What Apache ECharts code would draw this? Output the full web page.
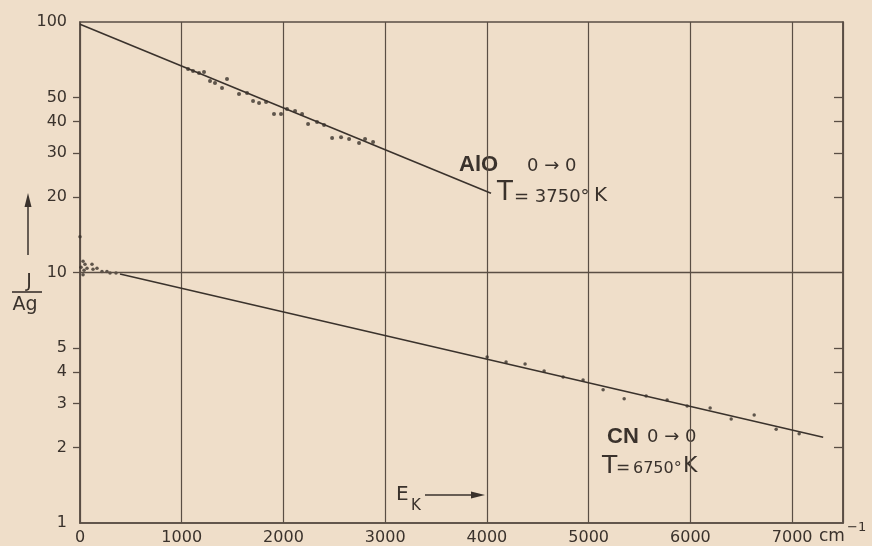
<!DOCTYPE html>
<html>
<head>
<meta charset="utf-8">
<script src="https://cdn.jsdelivr.net/npm/echarts@6/dist/echarts.min.js"></script>
<style>
html,body{margin:0;padding:0;background:#efdec9;}
#c{width:872px;height:546px;}
</style>
</head>
<body>
<div id="c"></div>
<script>
// ---- data ----
const yLabelValues = [1, 2, 3, 4, 5, 10, 20, 30, 40, 50, 100];
const yTickValues = [2, 3, 4, 5, 10, 20, 30, 40, 50];
const yRightTickValues = [2, 3, 4, 5, 20, 30, 40, 50];

// AlO 0-0 band: fitted line (T = 3750 K) and measured points
const aloLine = [[0, 98], [4040, 20.7]];
const aloPoints = [
  [1062, 64.9], [1111, 63.8], [1170, 62.6], [1219, 63.2], [1278, 58.2],
  [1327, 57.1], [1396, 54.5], [1445, 59.2], [1563, 51.6], [1642, 52.1],
  [1701, 48.4], [1760, 47.5], [1829, 47.9], [1907, 42.9], [1976, 42.9],
  [2035, 44.9], [2114, 44.1], [2183, 42.9], [2242, 39.2], [2330, 39.9],
  [2399, 38.8], [2478, 34.4], [2566, 34.7], [2645, 34.1], [2743, 32.9],
  [2802, 34.1], [2881, 33.2]
];

// CN 0-0 band: fitted line (T = 6750 K) and measured points
const cnLine = [[393, 9.86], [7305, 2.20]];
const cnPoints = [
  [0, 13.9], [30, 11.1], [49, 10.8], [10, 10.5], [69, 10.4], [40, 10.2],
  [30, 9.8], [118, 10.8], [128, 10.3], [167, 10.4], [216, 10.1], [265, 10.1],
  [295, 9.95], [354, 9.95],
  [4002, 4.60], [4188, 4.39], [4375, 4.31], [4562, 4.04], [4749, 3.83],
  [4945, 3.72], [5142, 3.40], [5349, 3.13], [5565, 3.21], [5771, 3.10],
  [5968, 2.93], [6194, 2.88], [6401, 2.60], [6627, 2.70], [6843, 2.37],
  [7069, 2.27]
];
const refLevel = 10;

// ---- styling ----
const INK = '#3a322c';
const GRID = '#5a4e44';
const FONT = 'DejaVu Sans';

const chart = echarts.init(document.getElementById('c'), null, {renderer: 'canvas'});

const txt = (x, y, s, size, extra) => ({
  type: 'text', x: x, y: y, silent: true,
  style: Object.assign({text: s, fill: INK, font: size + 'px "' + FONT + '"',
    align: 'left', verticalAlign: 'middle'}, extra || {})
});

chart.setOption({
  backgroundColor: '#efdec9',
  animation: false,
  grid: {left: 80, right: 29, top: 22, bottom: 23, show: true,
         borderColor: GRID, borderWidth: 1.5, backgroundColor: 'transparent'},
  xAxis: {
    type: 'value', min: 0, max: 7500, interval: 1000,
    axisLine: {show: true, lineStyle: {color: GRID, width: 1.5}},
    axisTick: {show: false},
    splitLine: {show: true, lineStyle: {color: GRID, width: 1.2}},
    axisLabel: {color: INK, fontFamily: FONT, fontSize: 16, margin: 7,
                showMaxLabel: false, formatter: v => String(v)}
  },
  yAxis: [{
    type: 'log', logBase: 10, min: 1, max: 100, position: 'left',
    axisLine: {show: true, lineStyle: {color: GRID, width: 1.5}},
    axisTick: {show: true, length: 7, lineStyle: {color: GRID, width: 1.3},
               customValues: yTickValues},
    axisLabel: {color: INK, fontFamily: FONT, fontSize: 16, margin: 13,
                customValues: yLabelValues, formatter: v => String(v)},
    splitLine: {show: false}
  }, {
    type: 'log', logBase: 10, min: 1, max: 100, position: 'right',
    axisLine: {show: true, lineStyle: {color: GRID, width: 1.5}},
    axisTick: {show: true, inside: true, length: 9,
               lineStyle: {color: GRID, width: 1.3}, customValues: yRightTickValues},
    axisLabel: {show: false},
    splitLine: {show: false}
  }],
  series: [
    {name: 'AlO fit', type: 'line', data: aloLine, symbol: 'none',
     lineStyle: {color: INK, width: 1.6}},
    {name: 'AlO', type: 'scatter', data: aloPoints, symbolSize: 4,
     itemStyle: {color: INK}},
    {name: 'CN fit', type: 'line', data: cnLine, symbol: 'none',
     lineStyle: {color: INK, width: 1.6},
     markLine: {silent: true, symbol: 'none', label: {show: false},
                lineStyle: {color: GRID, width: 1.3, type: 'solid'},
                data: [{yAxis: refLevel}]}},
    {name: 'CN', type: 'scatter', data: cnPoints, symbolSize: 3.5,
     itemStyle: {color: INK}}
  ],
  graphic: [
    // AlO annotation
    txt(459, 165, 'AlO', 22, {font: 'bold 22px "Liberation Sans"'}),
    txt(527, 166, '0 \u2192 0', 18),
    txt(497, 193, 'T', 26),
    txt(514, 197, '= 3750\u00b0', 18),
    txt(594, 196, 'K', 20),
    // CN annotation
    txt(607, 437, 'CN', 22, {font: 'bold 22px "Liberation Sans"'}),
    txt(647, 437, '0 \u2192 0', 18),
    txt(602, 466, 'T', 25),
    txt(616, 469, '=', 17),
    txt(633, 469, '6750\u00b0', 16),
    txt(683, 466, 'K', 22),
    // y axis quantity J/Ag with arrow
    {type: 'line', silent: true, shape: {x1: 28, y1: 255, x2: 28, y2: 203},
     style: {stroke: INK, lineWidth: 1.5}},
    {type: 'polygon', silent: true, shape: {points: [[28, 193], [24.5, 207], [31.5, 207]]},
     style: {fill: INK}},
    txt(29, 282, 'J', 19, {align: 'center'}),
    {type: 'line', silent: true, shape: {x1: 12, y1: 292, x2: 42, y2: 292},
     style: {stroke: INK, lineWidth: 1.6}},
    txt(25, 305, 'Ag', 19, {align: 'center'}),
    // x axis quantity E_K with arrow
    txt(396, 495, 'E', 20),
    txt(411, 506, 'K', 15),
    {type: 'line', silent: true, shape: {x1: 425, y1: 495, x2: 474, y2: 495},
     style: {stroke: INK, lineWidth: 1.5}},
    {type: 'polygon', silent: true, shape: {points: [[485, 495], [471, 491.5], [471, 498.5]]},
     style: {fill: INK}},
    // unit
    txt(819, 537, 'cm', 17),
    txt(847, 528, '\u22121', 13)
  ]
});
</script>
</body>
</html>
